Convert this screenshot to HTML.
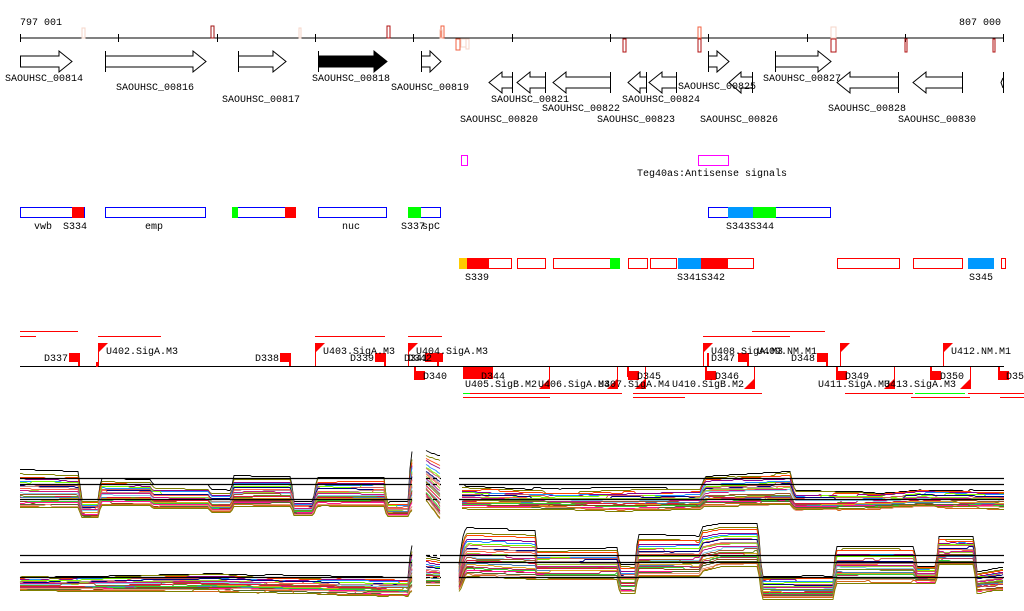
<!DOCTYPE html>
<html><head><meta charset="utf-8"><style>
html,body{margin:0;padding:0;background:#fff;}
svg{display:block;}
text{font-family:"Liberation Mono",monospace;font-size:10px;fill:#000;}
</style></head><body>
<svg id="s" width="1024" height="611" viewBox="0 0 1024 611" xmlns="http://www.w3.org/2000/svg">
<rect width="1024" height="611" fill="#fff"/>
<text x="20" y="25">797 001</text>
<text x="959" y="25">807 000</text>
<line x1="20" y1="38" x2="1004" y2="38" stroke="#000"/>
<g stroke="#000">
<line x1="20.5" y1="34" x2="20.5" y2="42"/><line x1="118.5" y1="34" x2="118.5" y2="42"/><line x1="217.5" y1="34" x2="217.5" y2="42"/><line x1="315.5" y1="34" x2="315.5" y2="42"/><line x1="413.5" y1="34" x2="413.5" y2="42"/><line x1="512.5" y1="34" x2="512.5" y2="42"/><line x1="610.5" y1="34" x2="610.5" y2="42"/><line x1="708.5" y1="34" x2="708.5" y2="42"/><line x1="807.5" y1="34" x2="807.5" y2="42"/><line x1="905.5" y1="34" x2="905.5" y2="42"/><line x1="1003.5" y1="34" x2="1003.5" y2="42"/>
</g>
<g fill="none">
<rect x="82" y="28" width="3" height="10" stroke="#f5d5c8"/>
<rect x="211" y="26" width="3" height="12" stroke="#a01010"/>
<rect x="299" y="28" width="2" height="10" stroke="#f5d5c8"/>
<rect x="387" y="26" width="3" height="12" stroke="#b01010"/>
<rect x="441" y="26" width="3" height="12" stroke="#f06040"/>
<rect x="440" y="30" width="2" height="8" stroke="#f5c0b0"/>
<rect x="456" y="39" width="4" height="11" stroke="#f06040"/>
<rect x="461" y="39" width="5" height="8" stroke="#f5d5c8"/>
<rect x="466" y="39" width="3" height="10" stroke="#f5d5c8"/>
<rect x="623" y="39" width="3" height="13" stroke="#b01010"/>
<rect x="698" y="27" width="3" height="11" stroke="#f06040"/>
<rect x="698" y="39" width="3" height="13" stroke="#b01010"/>
<rect x="831" y="27" width="5" height="11" stroke="#f5d5c8"/>
<rect x="831" y="39" width="5" height="13" stroke="#b01010"/>
<rect x="905" y="39" width="2" height="13" stroke="#b01010"/>
<rect x="993" y="39" width="2" height="13" stroke="#b01010"/>
</g>
<g stroke="#000" fill="#fff">
<path d="M20.5 56 H59 V51 L72 61.5 L59 72 V67 H20.5 Z"/>
<path d="M105.5 56 H193 V51 L206 61.5 L193 72 V67 H105.5 Z"/><line x1="105.5" y1="51" x2="105.5" y2="72"/>
<path d="M238.5 56 H273 V51 L286 61.5 L273 72 V67 H238.5 Z"/><line x1="238.5" y1="51" x2="238.5" y2="72"/>
<path d="M318.5 56 H374 V51 L387 61.5 L374 72 V67 H318.5 Z" fill="#000"/><line x1="318.5" y1="51" x2="318.5" y2="72"/>
<path d="M421.5 56 H430 V51 L441 61.5 L430 72 V67 H421.5 Z"/><line x1="421.5" y1="51" x2="421.5" y2="72"/>
<path d="M708.5 56 H717 V51 L729 61.5 L717 72 V67 H708.5 Z"/><line x1="708.5" y1="51" x2="708.5" y2="72"/>
<path d="M775.5 56 H818 V51 L831 61.5 L818 72 V67 H775.5 Z"/><line x1="775.5" y1="51" x2="775.5" y2="72"/>
<path d="M512.5 77 H502 V72 L489 82.5 L502 93 V88 H512.5 Z"/><line x1="512.5" y1="72" x2="512.5" y2="93"/>
<path d="M545.5 77 H530 V72 L517 82.5 L530 93 V88 H545.5 Z"/><line x1="545.5" y1="72" x2="545.5" y2="93"/>
<path d="M610.5 77 H566 V72 L553 82.5 L566 93 V88 H610.5 Z"/><line x1="610.5" y1="72" x2="610.5" y2="93"/>
<path d="M646.5 77 H640 V72 L628 82.5 L640 93 V88 H646.5 Z"/><line x1="646.5" y1="72" x2="646.5" y2="93"/>
<path d="M676.5 77 H662 V72 L649 82.5 L662 93 V88 H676.5 Z"/><line x1="676.5" y1="72" x2="676.5" y2="93"/>
<path d="M752.5 77 H741 V72 L729 82.5 L741 93 V88 H752.5 Z"/><line x1="752.5" y1="72" x2="752.5" y2="93"/>
<path d="M898.5 77 H850 V72 L837 82.5 L850 93 V88 H898.5 Z"/><line x1="898.5" y1="72" x2="898.5" y2="93"/>
<path d="M962.5 77 H926 V72 L913 82.5 L926 93 V88 H962.5 Z"/><line x1="962.5" y1="72" x2="962.5" y2="93"/>
<line x1="1003.5" y1="72" x2="1003.5" y2="93"/><path d="M1003 78 L1001 82.5 L1003 88" fill="none"/>
</g>
<g>
<text x="5" y="81">SAOUHSC_00814</text>
<text x="116" y="90">SAOUHSC_00816</text>
<text x="222" y="102">SAOUHSC_00817</text>
<text x="312" y="81">SAOUHSC_00818</text>
<text x="391" y="90">SAOUHSC_00819</text>
<text x="460" y="122">SAOUHSC_00820</text>
<text x="491" y="102">SAOUHSC_00821</text>
<text x="542" y="111">SAOUHSC_00822</text>
<text x="597" y="122">SAOUHSC_00823</text>
<text x="622" y="102">SAOUHSC_00824</text>
<text x="678" y="89">SAOUHSC_00825</text>
<text x="700" y="122">SAOUHSC_00826</text>
<text x="763" y="81">SAOUHSC_00827</text>
<text x="828" y="111">SAOUHSC_00828</text>
<text x="898" y="122">SAOUHSC_00830</text>
</g>
<rect x="461.5" y="155.5" width="6" height="10" fill="none" stroke="#f0f"/>
<rect x="698.5" y="155.5" width="30" height="10" fill="none" stroke="#f0f"/>
<text x="637" y="176">Teg40as:Antisense signals</text>
<g stroke="#00f" fill="#fff">
<rect x="20.5" y="207.5" width="64" height="10"/>
<rect x="105.5" y="207.5" width="100" height="10"/>
<rect x="232.5" y="207.5" width="63" height="10"/>
<rect x="318.5" y="207.5" width="68" height="10"/>
<rect x="408.5" y="207.5" width="32" height="10"/>
<rect x="708.5" y="207.5" width="122" height="10"/>
</g>
<rect x="72" y="207" width="12" height="11" fill="#f00"/>
<rect x="232" y="207" width="6" height="11" fill="#0f0"/>
<rect x="285" y="207" width="11" height="11" fill="#f00"/>
<rect x="408" y="207" width="13" height="11" fill="#0f0"/>
<rect x="728" y="207" width="25" height="11" fill="#09f"/>
<rect x="753" y="207" width="23" height="11" fill="#0f0"/>
<text x="34" y="229">vwb</text><text x="63" y="229">S334</text><text x="145" y="229">emp</text><text x="342" y="229">nuc</text>
<text x="401" y="229">S337</text><text x="422" y="229">spC</text><text x="726" y="229">S343S344</text>
<g stroke="#f00" fill="#fff">
<rect x="459.5" y="258.5" width="52" height="10"/>
<rect x="517.5" y="258.5" width="28" height="10"/>
<rect x="553.5" y="258.5" width="66" height="10"/>
<rect x="628.5" y="258.5" width="19" height="10"/>
<rect x="650.5" y="258.5" width="26" height="10"/>
<rect x="678.5" y="258.5" width="75" height="10"/>
<rect x="837.5" y="258.5" width="62" height="10"/>
<rect x="913.5" y="258.5" width="49" height="10"/>
<rect x="1001.5" y="258.5" width="4" height="10"/>
</g>
<rect x="459" y="258" width="8" height="11" fill="#fc0"/>
<rect x="467" y="258" width="22" height="11" fill="#f00"/>
<rect x="610" y="258" width="10" height="11" fill="#0f0"/>
<rect x="678" y="258" width="23" height="11" fill="#09f"/>
<rect x="701" y="258" width="27" height="11" fill="#f00"/>
<rect x="968" y="258" width="26" height="11" fill="#09f"/>
<text x="465" y="280">S339</text><text x="677" y="280">S341S342</text><text x="969" y="280">S345</text>
<g stroke="#f00" stroke-width="1">
<line x1="20" y1="331.5" x2="78" y2="331.5"/><line x1="20" y1="336.5" x2="36" y2="336.5"/>
<line x1="98" y1="336.5" x2="161" y2="336.5"/><line x1="315" y1="336.5" x2="385" y2="336.5"/>
<line x1="408" y1="336.5" x2="442" y2="336.5"/><line x1="703" y1="336.5" x2="790" y2="336.5"/>
<line x1="752" y1="331.5" x2="825" y2="331.5"/>
<line x1="463" y1="397.5" x2="550" y2="397.5"/><line x1="470" y1="393.5" x2="622" y2="393.5"/>
<line x1="633" y1="397.5" x2="685" y2="397.5"/><line x1="633" y1="393.5" x2="762" y2="393.5"/>
<line x1="845" y1="393.5" x2="913" y2="393.5"/><line x1="911" y1="397.5" x2="970" y2="397.5"/>
<line x1="968" y1="393.5" x2="1024" y2="393.5"/><line x1="1000" y1="397.5" x2="1024" y2="397.5"/>
</g>
<line x1="463" y1="393.5" x2="470" y2="393.5" stroke="#0f0"/>
<line x1="915" y1="393.5" x2="965" y2="393.5" stroke="#0f0"/>
<line x1="20" y1="366.5" x2="1004" y2="366.5" stroke="#000"/>
<g fill="#f00">
<path d="M98 343 h10 l-10 10z"/><rect x="98" y="343" width="1" height="23"/><rect x="96" y="362" width="2" height="5"/>
<path d="M315 343 h10 l-10 10z"/><rect x="315" y="343" width="1" height="23"/>
<path d="M408 343 h10 l-10 10z"/><rect x="408" y="343" width="1" height="23"/>
<path d="M703 343 h10 l-10 10z"/><rect x="703" y="343" width="1" height="23"/>
<path d="M840 343 h10 l-10 10z"/><rect x="840" y="343" width="1" height="23"/>
<path d="M943 343 h10 l-10 10z"/><rect x="943" y="343" width="1" height="23"/>
<rect x="69" y="353" width="10" height="9"/><rect x="78" y="353" width="2" height="13"/>
<rect x="280" y="353" width="10" height="9"/><rect x="289" y="353" width="2" height="13"/>
<rect x="375" y="353" width="10" height="9"/><rect x="384" y="353" width="2" height="13"/>
<rect x="425" y="353" width="18" height="9"/><rect x="437" y="353" width="2" height="13"/>
<rect x="707" y="353" width="2" height="13"/>
<rect x="738" y="353" width="10" height="9"/><rect x="747" y="353" width="2" height="13"/>
<rect x="817" y="353" width="10" height="9"/><rect x="826" y="353" width="2" height="13"/>
<rect x="414" y="367" width="2" height="13"/><rect x="415" y="371" width="10" height="9"/>
<rect x="463" y="367" width="30" height="12"/>
<rect x="628" y="371" width="11" height="9"/><rect x="627" y="367" width="2" height="10"/>
<rect x="705" y="371" width="11" height="9"/><rect x="705" y="367" width="2" height="10"/>
<rect x="836" y="371" width="11" height="9"/><rect x="836" y="367" width="2" height="10"/>
<rect x="930" y="371" width="11" height="9"/><rect x="930" y="367" width="2" height="10"/>
<rect x="998" y="371" width="11" height="9"/><rect x="998" y="367" width="2" height="10"/>
<rect x="549" y="367" width="1" height="22"/><path d="M549 389 h-10 l10 -10z"/>
<rect x="617" y="367" width="1" height="22"/><path d="M617 389 h-10 l10 -10z"/>
<rect x="645" y="367" width="1" height="22"/><path d="M645 389 h-10 l10 -10z"/>
<rect x="754" y="367" width="1" height="22"/><path d="M754 389 h-10 l10 -10z"/>
<rect x="894" y="367" width="1" height="22"/><path d="M894 389 h-10 l10 -10z"/>
<rect x="970" y="367" width="1" height="22"/><path d="M970 389 h-10 l10 -10z"/>
</g>
<text x="106" y="354">U402.SigA.M3</text><text x="323" y="354">U403.SigA.M3</text>
<text x="416" y="354">U404.SigA.M3</text><text x="711" y="354">U408.SigA.M3</text>
<text x="757" y="354">U409.NM.M1</text><text x="951" y="354">U412.NM.M1</text>
<text x="44" y="361">D337</text><text x="255" y="361">D338</text><text x="350" y="361">D339</text>
<text x="404" y="361">D341</text><text x="408" y="361">D342</text>
<text x="711" y="361">D347</text><text x="791" y="361">D348</text>
<text x="423" y="379">D340</text><text x="481" y="379">D344</text><text x="637" y="379">D345</text>
<text x="715" y="379">D346</text><text x="845" y="379">D349</text><text x="940" y="379">D350</text><text x="1006" y="379">D35</text>
<text x="465" y="387">U405.SigB.M2</text><text x="538" y="387">U406.SigA.M3</text>
<text x="598" y="387">U407.SigA.M4</text><text x="672" y="387">U410.SigB.M2</text>
<text x="818" y="387">U411.SigA.M3</text><text x="884" y="387">U413.SigA.M3</text>
<g id="plots"></g>
<g stroke="#000" stroke-width="1.2">
<line x1="20" y1="478.5" x2="412" y2="478.5"/><line x1="20" y1="484.5" x2="412" y2="484.5"/><line x1="20" y1="499.5" x2="412" y2="499.5"/>
<line x1="426" y1="478.5" x2="441" y2="478.5" stroke-dasharray="4 3"/><line x1="426" y1="484.5" x2="441" y2="484.5" stroke-dasharray="4 3"/><line x1="426" y1="499.5" x2="441" y2="499.5" stroke-dasharray="4 3"/>
<line x1="459" y1="478.5" x2="1004" y2="478.5"/><line x1="459" y1="484.5" x2="1004" y2="484.5"/><line x1="459" y1="499.5" x2="1004" y2="499.5"/>
<line x1="20" y1="555.5" x2="412" y2="555.5"/><line x1="20" y1="562.5" x2="412" y2="562.5"/><line x1="20" y1="577.5" x2="412" y2="577.5"/>
<line x1="426" y1="555.5" x2="441" y2="555.5" stroke-dasharray="4 3"/><line x1="426" y1="577.5" x2="441" y2="577.5" stroke-dasharray="4 3"/>
<line x1="440" y1="555.5" x2="1004" y2="555.5"/><line x1="440" y1="562.5" x2="1004" y2="562.5"/><line x1="459" y1="577.5" x2="1004" y2="577.5"/>
</g>
</svg>
<script>
(function(){
var P1=[[[20,470,507],[78,472,507],[82,500,517],[98,500,517],[101,479,505],[150,480,505],[153,485,508],[208,485,508],[211,490,512],[231,490,512],[234,475,506],[291,475,506],[294,500,515],[313,500,515],[317,476,506],[384,476,506],[387,502,516],[408,502,516],[411,452,510],[413,452,510]],
[[426,450,500],[441,455,520]],
[[462,485,508],[560,490,508],[620,488,510],[700,488,508],[705,475,505],[790,470,505],[795,490,510],[880,492,508],[920,488,506],[1004,490,508]]];
var P2=[[[20,576,590],[130,574,590],[215,572,590],[290,575,592],[408,577,595],[411,545,590],[413,545,590]],
[[426,555,585],[441,558,585]],
[[459,565,590],[462,540,585],[466,528,575],[535,530,578],[537,548,578],[617,548,578],[620,565,592],[635,565,592],[638,535,575],[700,535,575],[702,525,570],[720,522,565],[758,522,565],[762,575,598],[833,575,598],[836,545,582],[914,545,582],[917,565,582],[936,565,582],[939,535,565],[974,535,565],[977,570,592],[1004,565,590]]];
var cols=["#d2691e","#808000","#ff4500","#8b008b","#1e90ff","#7cfc00","#cd5c5c","#000080","#bc8f8f","#ff6347","#9acd32","#c71585","#87ceeb","#a0522d","#6b8e23","#dc143c","#4682b4","#daa520","#b03060","#32cd32","#8b4513","#ff1493","#556b2f","#e9967a"];
var g=document.getElementById("plots"),ns="http://www.w3.org/2000/svg";
var seed=7;function r(){seed=(seed*16807)%2147483647;return seed/2147483647;}
function interp(seg,x){for(var k=0;k<seg.length-1;k++){var a=seg[k],b=seg[k+1];if(x>=a[0]&&x<=b[0]){var t=(b[0]==a[0])?0:(x-a[0])/(b[0]-a[0]);return [a[1]+(b[1]-a[1])*t,a[2]+(b[2]-a[2])*t];}}return [seg[seg.length-1][1],seg[seg.length-1][2]];}
function draw(P){var N=26;for(var i=0;i<N;i++){var f=Math.pow(i/(N-1),0.7);var col=i==0?"#000":cols[i%cols.length];
P.forEach(function(seg){var pts=[];var x0=seg[0][0],x1=seg[seg.length-1][0];var off=(r()-0.5)*2;
for(var x=x0;x<=x1;x+=2){var tb=interp(seg,x);var y=tb[0]+(tb[1]-tb[0])*f+off;if(r()<0.03)off=(r()-0.5)*3;pts.push(x+","+Math.round(y)+".5");}
var pl=document.createElementNS(ns,"polyline");pl.setAttribute("points",pts.join(" "));pl.setAttribute("fill","none");pl.setAttribute("stroke",col);pl.setAttribute("stroke-width","0.9");g.appendChild(pl);});}}
draw(P1);draw(P2);
})();
</script>
</body></html>
